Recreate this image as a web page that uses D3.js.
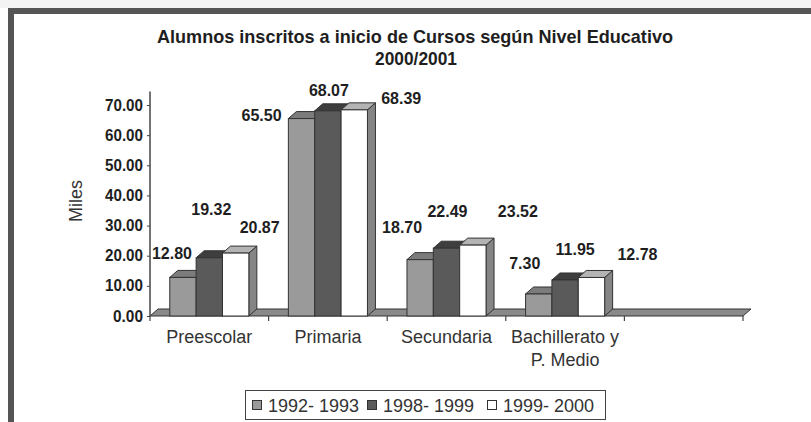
<!DOCTYPE html>
<html><head><meta charset="utf-8">
<script src="https://cdn.jsdelivr.net/npm/d3@7"></script>
<style>
html,body{margin:0;padding:0;background:#fff;}
svg{display:block;font-family:"Liberation Sans",Arial,sans-serif;}
</style></head>
<body><svg id="c" width="811" height="422"></svg>
<script>
// ---- data ----
const titleLines = ["Alumnos inscritos a inicio de Cursos según Nivel Educativo", "2000/2001"];
const categories = ["Preescolar", "Primaria", "Secundaria", "Bachillerato y|P. Medio"];
const seriesNames = ["1992- 1993", "1998- 1999", "1999- 2000"];
const values1992 = [12.80, 65.50, 18.70, 7.30];
const values1998 = [19.32, 68.07, 22.49, 11.95];
const values1999 = [20.87, 68.39, 23.52, 12.78];
const yTicks = [0, 10, 20, 30, 40, 50, 60, 70];
const yLabel = "Miles";

// ---- layout / style (not data) ----
const seriesFill = [
  {front: "#9a9a9a", top: "#7c7c7c", side: "#707070"},
  {front: "#5a5a5a", top: "#3e3e3e", side: "#3a3a3a"},
  {front: "#ffffff", top: "#b4b4b4", side: "#858585"}
];
// data-label offsets (px) from bar front centre / bar top, as placed in the original
const labelShift = [
  [[-11, -24], [-40, -3], [-18, -32], [-14, -31]],
  [[2, -49], [1, -21], [1, -37], [10, -31]],
  [[24, -26], [47, -12], [45, -34], [46, -23]]
];
const DX = 8, DY = 7;

const svg = d3.select("#c");
const ink = "#1e1e1e";

// border
svg.append("rect").attr("x", 0).attr("y", 0).attr("width", 811).attr("height", 8).attr("fill", "#f3f3f3");
svg.append("path").attr("d", "M11,422 V11 H811").attr("fill", "none")
  .attr("stroke", "#555").attr("stroke-width", 6);

// title
svg.append("text").attr("x", 415).attr("y", 43).attr("text-anchor", "middle")
  .attr("font-size", 19).attr("font-weight", "bold").attr("fill", ink)
  .attr("textLength", 516).attr("lengthAdjust", "spacingAndGlyphs").text(titleLines[0]);
svg.append("text").attr("x", 416).attr("y", 65).attr("text-anchor", "middle")
  .attr("font-size", 19).attr("font-weight", "bold").attr("fill", ink)
  .attr("textLength", 82).attr("lengthAdjust", "spacingAndGlyphs").text(titleLines[1]);

// scales
const slots = categories.concat([""]);
const x0 = d3.scaleBand().domain(slots).range([150, 743]).paddingInner(0).paddingOuter(0);
const x1 = d3.scaleBand().domain(seriesNames).range([0, x0.bandwidth()]).paddingInner(0).paddingOuter(0.75);
const y = d3.scaleLinear().domain([0, 70]).range([316, 105]);
const y0 = y(0);

// floor
const xL = x0.range()[0], xR = x0.range()[1];
svg.append("path")
  .attr("d", `M${xL},${y0} L${xR},${y0} L${xR + DX},${y0 - DY} L${xL + DX},${y0 - DY} Z`)
  .attr("fill", "#8a8a8a").attr("stroke", "#333").attr("stroke-width", 1);

// y axis
svg.append("line").attr("x1", xL).attr("x2", xL).attr("y1", y0).attr("y2", y(74.5))
  .attr("stroke", "#444").attr("stroke-width", 1.5);
const ya = svg.append("g").attr("transform", `translate(${xL},0)`)
  .call(d3.axisLeft(y).tickValues(yTicks).tickSize(3).tickPadding(4).tickFormat(d3.format(".2f")));
ya.select(".domain").remove();
ya.selectAll(".tick line").attr("stroke", "#444");
ya.selectAll(".tick text").attr("font-size", 16).attr("font-weight", "bold").attr("fill", ink)
  .attr("font-family", "\"Liberation Sans\",Arial,sans-serif")
  .attr("textLength", d => d >= 10 ? 38 : 30).attr("lengthAdjust", "spacingAndGlyphs");

// x axis ticks
const tickXs = slots.map(s => x0(s)).concat([xR]);
svg.selectAll("line.xt").data(tickXs).enter().append("line")
  .attr("x1", d => d).attr("x2", d => d).attr("y1", y0).attr("y2", y0 + 5)
  .attr("stroke", "#444").attr("stroke-width", 1.2);

// y label
svg.append("text").attr("transform", "translate(82,201) rotate(-90)").attr("text-anchor", "middle")
  .attr("font-size", 18).attr("fill", "#333").text(yLabel);

// bars
const allValues = [values1992, values1998, values1999];
categories.forEach((cat, ci) => {
  seriesNames.forEach((s, si) => {
    const v = allValues[si][ci];
    const bx = x0(cat) + x1(s), bw = x1.bandwidth(), by = y(v);
    const g = svg.append("g");
    const col = seriesFill[si];
    g.append("path")
      .attr("d", `M${bx + bw},${by} L${bx + bw + DX},${by - DY} L${bx + bw + DX},${y0 - DY} L${bx + bw},${y0} Z`)
      .attr("fill", col.side).attr("stroke", "#333").attr("stroke-width", 1).attr("stroke-linejoin", "round");
    g.append("path")
      .attr("d", `M${bx},${by} L${bx + DX},${by - DY} L${bx + bw + DX},${by - DY} L${bx + bw},${by} Z`)
      .attr("fill", col.top).attr("stroke", "#333").attr("stroke-width", 1).attr("stroke-linejoin", "round");
    g.append("rect").attr("x", bx).attr("y", by).attr("width", bw).attr("height", y0 - by)
      .attr("fill", col.front).attr("stroke", "#333").attr("stroke-width", 1);
  });
});

// data labels
categories.forEach((cat, ci) => {
  seriesNames.forEach((s, si) => {
    const v = allValues[si][ci];
    const cx = x0(cat) + x1(s) + x1.bandwidth() / 2;
    const sh = labelShift[si][ci];
    svg.append("text").attr("x", cx + sh[0]).attr("y", y(v) + sh[1]).attr("dy", "0.36em")
      .attr("text-anchor", "middle").attr("font-size", 16).attr("font-weight", "bold").attr("fill", ink)
      .text(d3.format(".2f")(v));
  });
});

// category labels
categories.forEach(cat => {
  const lines = cat.split("|");
  const t = svg.append("text").attr("text-anchor", "middle").attr("font-size", 18).attr("fill", "#333");
  lines.forEach((ln, i) => {
    t.append("tspan").attr("x", x0(cat) + x0.bandwidth() / 2).attr("y", 343 + i * 23).text(ln);
  });
});

// legend
const lg = svg.append("g");
lg.append("rect").attr("x", 245.5).attr("y", 390.5).attr("width", 360).attr("height", 29)
  .attr("fill", "#fff").attr("stroke", "#444").attr("stroke-width", 1);
const legX = [252, 367, 487];
seriesNames.forEach((s, i) => {
  lg.append("rect").attr("x", legX[i] + 0.5).attr("y", 400.5).attr("width", 9).attr("height", 9)
    .attr("fill", seriesFill[i].front).attr("stroke", "#333").attr("stroke-width", 1);
  lg.append("text").attr("x", legX[i] + 16).attr("y", 411.5).attr("font-size", 18).attr("fill", "#333").text(s);
});
</script></body></html>
